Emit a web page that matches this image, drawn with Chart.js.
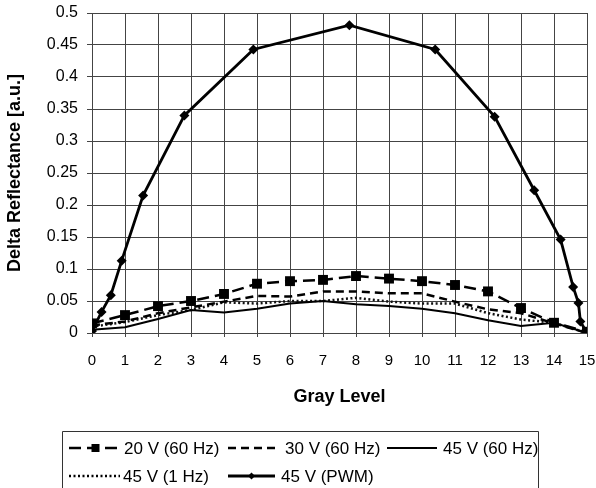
<!DOCTYPE html>
<html>
<head>
<meta charset="utf-8">
<script src="https://cdn.jsdelivr.net/npm/chart.js@4/dist/chart.umd.min.js"></script>
<style>
html,body{margin:0;padding:0;background:#fff;}
#wrap{width:596px;height:488px;}
</style>
</head>
<body>
<div id="wrap"><canvas id="c" width="596" height="488"></canvas></div>
<script>
// ---- data ----
const grayLevels = [0,1,2,3,4,5,6,7,8,9,10,11,12,13,14,15];
const seriesNames = ["20 V (60 Hz)", "30 V (60 Hz)", "45 V (60 Hz)", "45 V (1 Hz)", "45 V (PWM)"];
const v20_60Hz = [0.015,0.028,0.042,0.050,0.061,0.077,0.081,0.083,0.089,0.085,0.081,0.075,0.065,0.039,0.016,0.002];
const v30_60Hz = [0.012,0.018,0.031,0.040,0.049,0.058,0.057,0.065,0.065,0.062,0.062,0.049,0.037,0.031,0.015,0.0];
const v45_60Hz = [0.005,0.009,0.022,0.036,0.032,0.038,0.046,0.050,0.045,0.042,0.038,0.031,0.020,0.011,0.016,0.0];
const v45_1Hz  = [0.010,0.017,0.028,0.036,0.048,0.046,0.050,0.050,0.055,0.049,0.046,0.046,0.031,0.021,0.016,0.0];
const pwmX = [0,0.29,0.57,0.9,1.55,2.8,4.89,7.8,10.4,12.2,13.4,14.2,14.58,14.74,14.8,15];
const pwmY = [0.003,0.033,0.059,0.113,0.215,0.34,0.443,0.481,0.443,0.338,0.223,0.146,0.072,0.047,0.018,0.0];
const yTicks = [0,0.05,0.1,0.15,0.2,0.25,0.3,0.35,0.4,0.45,0.5];

const pts = (xs, ys) => xs.map((x,i)=>({x:x, y:ys[i]}));
const FONT = '"Liberation Sans", Arial, sans-serif';

const legendPlugin = {
  id: 'customLegend',
  afterDraw(chart) {
    const ctx = chart.ctx;
    ctx.save();
    ctx.strokeStyle = '#333';
    ctx.lineWidth = 1;
    ctx.setLineDash([]);
    ctx.beginPath();
    ctx.moveTo(62.5, 490);
    ctx.lineTo(62.5, 431.5);
    ctx.lineTo(538.5, 431.5);
    ctx.lineTo(538.5, 490);
    ctx.stroke();
    const slots = [
      {x:69, y:448, w:53, tx:124},
      {x:228, y:448, w:47, tx:285},
      {x:387, y:448, w:50, tx:443},
      {x:69, y:476, w:51, tx:123},
      {x:228, y:476, w:47, tx:281}
    ];
    chart.data.datasets.forEach((ds, i) => {
      const s = slots[i];
      ctx.strokeStyle = '#000';
      ctx.lineWidth = ds.borderWidth;
      ctx.setLineDash(ds.borderDash || []);
      ctx.beginPath();
      ctx.moveTo(s.x, s.y);
      ctx.lineTo(s.x + s.w, s.y);
      ctx.stroke();
      ctx.setLineDash([]);
      const cx = s.x + s.w/2;
      ctx.fillStyle = '#000';
      if (ds.pointStyle === 'rect' && ds.pointRadius > 0) {
        ctx.fillRect(cx-4, s.y-4, 8, 8);
      } else if (ds.pointStyle === 'rectRot' && ds.pointRadius > 0) {
        ctx.beginPath();
        ctx.moveTo(cx, s.y-3.5); ctx.lineTo(cx+3.5, s.y); ctx.lineTo(cx, s.y+3.5); ctx.lineTo(cx-3.5, s.y);
        ctx.closePath(); ctx.fill();
      }
      ctx.font = '17px ' + FONT;
      ctx.textBaseline = 'middle';
      ctx.textAlign = 'left';
      ctx.fillText(ds.label, s.tx, s.y + 1);
    });
    ctx.restore();
  }
};

new Chart(document.getElementById('c'), {
  type: 'line',
  data: {
    datasets: [
      {label: seriesNames[0], data: pts(grayLevels, v20_60Hz), borderColor:'#000', backgroundColor:'#000', borderWidth:2.5, borderDash:[12,6], pointStyle:'rect', pointRadius:7, pointBorderWidth:0, tension:0},
      {label: seriesNames[1], data: pts(grayLevels, v30_60Hz), borderColor:'#000', backgroundColor:'#000', borderWidth:2.5, borderDash:[8,5], pointRadius:0, tension:0},
      {label: seriesNames[2], data: pts(grayLevels, v45_60Hz), borderColor:'#000', backgroundColor:'#000', borderWidth:2, pointRadius:0, tension:0},
      {label: seriesNames[3], data: pts(grayLevels, v45_1Hz), borderColor:'#111', backgroundColor:'#000', borderWidth:2.5, borderDash:[2,2.5], pointRadius:0, tension:0},
      {label: seriesNames[4], data: pts(pwmX, pwmY), borderColor:'#000', backgroundColor:'#000', borderWidth:2.8, pointStyle:'rectRot', pointRadius:5, pointBorderWidth:0, tension:0}
    ]
  },
  options: {
    responsive: false,
    animation: false,
    devicePixelRatio: 1,
    layout: {padding: {left:0, top:13, right:9, bottom:67}},
    plugins: {legend:{display:false}, tooltip:{enabled:false}},
    scales: {
      x: {
        type: 'linear', min: 0, max: 15,
        afterFit(scale){ scale.height = 88; scale.paddingLeft = 0; scale.paddingRight = 0; scale.paddingTop = 0; scale.paddingBottom = 0; },
        afterBuildTicks(scale){ scale.ticks = grayLevels.map(v=>({value:v})); },
        grid: {color:'#444', lineWidth:1, tickLength:4, drawTicks:true},
        border: {color:'#444', width:1},
        ticks: {color:'#000', font:{family:FONT, size:15}, padding:15, maxRotation:0, autoSkip:false},
        title: {display:true, text:'Gray Level', color:'#000', font:{family:FONT, size:18, weight:'bold'}, padding:{top:0, bottom:13}}
      },
      y: {
        type: 'linear', min: 0, max: 0.5,
        afterFit(scale){ scale.width = 92; scale.paddingLeft = 0; scale.paddingRight = 0; scale.paddingTop = 0; scale.paddingBottom = 0; },
        afterBuildTicks(scale){ scale.ticks = yTicks.map(v=>({value:v})); },
        grid: {color:'#444', lineWidth:1, tickLength:5, drawTicks:true},
        border: {color:'#444', width:1},
        ticks: {color:'#000', font:{family:FONT, size:16}, padding:9, callback:(v)=>String(Math.round(v*100)/100)},
        title: {display:true, text:'Delta Reflectance [a.u.]', color:'#000', font:{family:FONT, size:18, weight:'bold'}, padding:{top:4, bottom:0}}
      }
    }
  },
  plugins: [legendPlugin]
});
</script>
</body>
</html>
